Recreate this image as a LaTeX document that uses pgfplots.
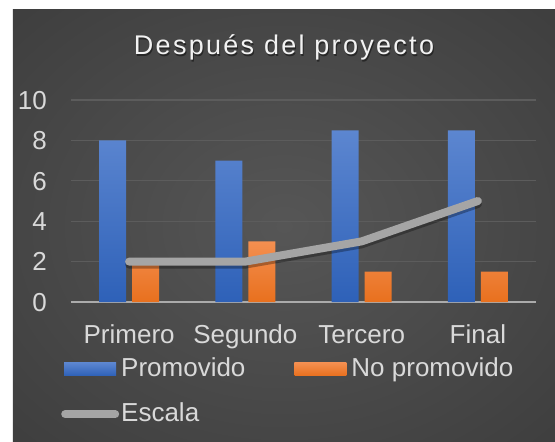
\documentclass[border=0pt]{standalone}
\usepackage{pgfplots}
\pgfplotsset{compat=1.18}
\usepackage{fontspec}
\setmainfont{Liberation Sans}
\newfontfamily\titlefont[LetterSpace=8.5]{Liberation Sans}
\definecolor{txt}{HTML}{D9D9D9}
\definecolor{titlecol}{HTML}{F2F2F2}
\definecolor{bgin}{HTML}{565656}
\definecolor{bgout}{HTML}{262626}
\definecolor{gridc}{HTML}{5C5C5C}
\definecolor{axc}{HTML}{ABABAB}
\definecolor{blueTop}{HTML}{5C86D0}
\definecolor{blueBot}{HTML}{2E61B8}
\definecolor{orTop}{HTML}{F48F50}
\definecolor{orBot}{HTML}{E8701E}
\definecolor{lineC}{HTML}{A5A5A5}
\pgfdeclareradialshading{bgshade}{\pgfpoint{0bp}{0bp}}{color(0bp)=(bgin); color(72bp)=(bgout)}
\begin{document}
\begin{tikzpicture}
\fill[white] (-71bp,-140bp) rectangle (484bp,302bp);
\shade[shading=bgshade] (-58bp,-140bp) rectangle (484bp,292bp);
\node[anchor=base, text=black, opacity=0.45, font=\titlefont\fontsize{27bp}{32bp}\selectfont] at (214bp,245.5bp) {Después del proyecto};
\node[anchor=base, text=titlecol, font=\titlefont\fontsize{27bp}{32bp}\selectfont] at (213bp,247bp) {Después del proyecto};
\begin{axis}[
  at={(0,0)}, anchor=south west,
  scale only axis, width=465bp, height=202bp,
  xmin=-0.5, xmax=3.5, ymin=0, ymax=10,
  axis x line*=bottom, axis y line*=left,
  y axis line style={draw=none},
  x axis line style={draw=axc, line width=2bp},
  major tick length=0pt,
  ymajorgrids, grid style={draw=gridc, line width=1.2bp},
  ytick={0,2,4,6,8,10},
  xtick={0,1,2,3},
  xticklabels={Primero,Segundo,Tercero,Final},
  /pgf/number format/assume math mode=true,
  ticklabel style={font=\fontsize{26bp}{30bp}\selectfont, text=txt, inner sep=0pt},
  yticklabel style={anchor=base east, xshift=-24bp, yshift=-9.3bp},
  xticklabel style={anchor=base, yshift=-41bp},
  legend columns=2,
  legend cell align=left,
  legend style={draw=none, fill=none, inner sep=0pt, at={(0,0)}, anchor=north west,
    xshift=-10bp, yshift=-53.5bp, font=\fontsize{26bp}{30bp}\selectfont, text=txt,
    row sep=18bp, nodes={inner sep=2bp, text height=19bp, text depth=4bp},
    /tikz/every even column/.append style={column sep=44bp}},
]
\addplot[ybar, bar width=27bp, bar shift=-16.5bp, draw=none, top color=blueTop, bottom color=blueBot,
  legend image code/.code={\path (-3bp,0bp) (55bp,0bp);\fill[top color=blueTop,bottom color=blueBot] (0bp,-6.5bp) rectangle (52bp,6.5bp);}]
  coordinates {(0,8) (1,7) (2,8.5) (3,8.5)};
\addlegendentry{Promovido}
\addplot[ybar, bar width=27bp, bar shift=16.5bp, draw=none, top color=orTop, bottom color=orBot,
  legend image code/.code={\path (-3bp,0bp) (55bp,0bp);\fill[top color=orTop,bottom color=orBot] (0bp,-6.5bp) rectangle (52bp,6.5bp);}]
  coordinates {(0,2) (1,3) (2,1.5) (3,1.5)};
\addlegendentry{No promovido}
\addplot[forget plot, black, opacity=0.3, line width=8bp, line cap=round, line join=round, yshift=-3bp, mark=none]
  coordinates {(0,2) (1,2) (2,3) (3,5)};
\addplot[lineC, line width=8bp, line cap=round, line join=round, mark=none,
  legend image code/.code={\draw[lineC, line width=8bp, line cap=round] (1bp,0bp) -- (51bp,0bp);}]
  coordinates {(0,2) (1,2) (2,3) (3,5)};
\addlegendentry{Escala}
\end{axis}
\pgfresetboundingbox
\useasboundingbox (-71bp,-140bp) rectangle (484bp,302bp);
\end{tikzpicture}
\end{document}
